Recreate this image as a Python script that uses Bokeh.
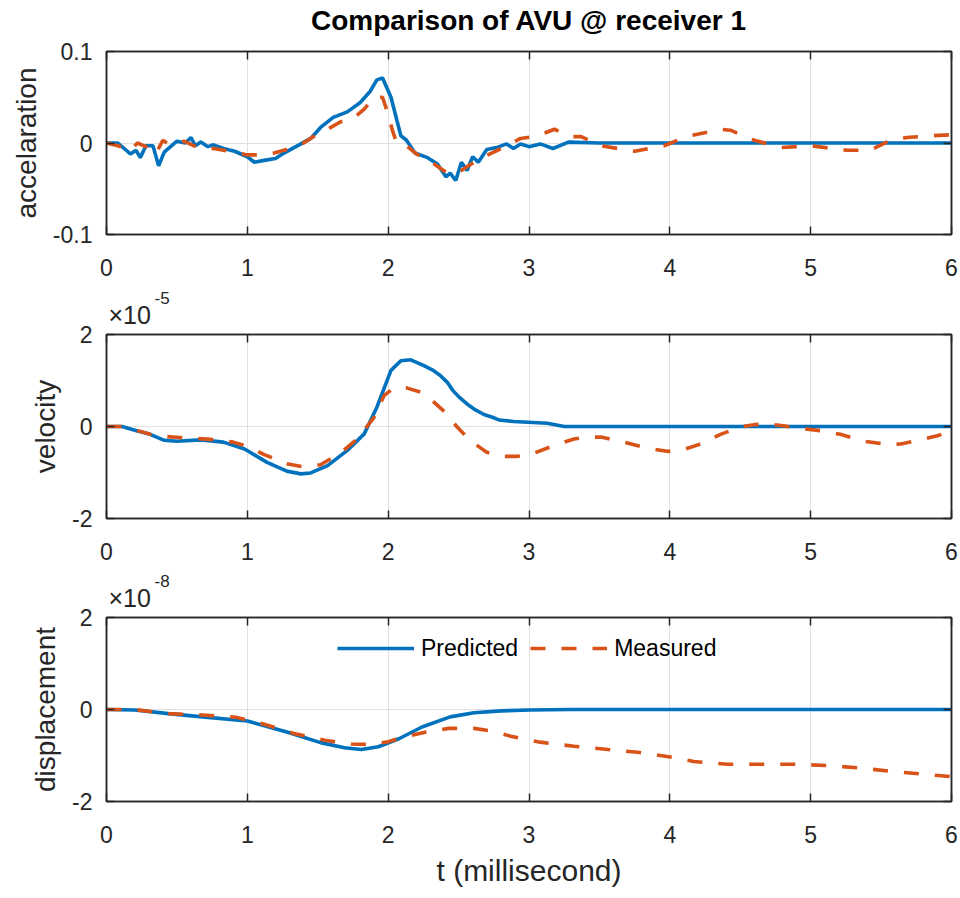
from bokeh.plotting import figure
from bokeh.layouts import column
from bokeh.models import (LinearAxis, FixedTicker, Legend, LegendItem,
                          Range1d, Title, CustomLabelingPolicy)
from bokeh.embed import file_html
from bokeh.resources import INLINE

# ---------------- data ----------------
t_acc_pred = [0, 0.08, 0.17, 0.21, 0.24, 0.28, 0.33, 0.37, 0.41, 0.50,
              0.56, 0.60, 0.63, 0.67, 0.72, 0.76, 0.83, 0.91, 1.00, 1.05,
              1.12, 1.20, 1.26, 1.38, 1.45, 1.52, 1.61, 1.71, 1.80, 1.87,
              1.92, 1.96, 2.02, 2.05, 2.09, 2.13, 2.19, 2.28, 2.35, 2.41,
              2.44, 2.48, 2.52, 2.56, 2.60, 2.64, 2.70, 2.77, 2.84, 2.89,
              2.94, 3.00, 3.08, 3.17, 3.28, 3.5, 4.0, 5.0, 6.0]
acc_pred = [0, 0, -0.012, -0.008, -0.016, -0.003, -0.003, -0.025, -0.010, 0.002,
            0, 0.006, -0.003, 0.001, -0.004, -0.002, -0.006, -0.009, -0.015, -0.021,
            -0.019, -0.017, -0.011, -0.001, 0.005, 0.017, 0.028, 0.034, 0.044, 0.056,
            0.069, 0.071, 0.050, 0.032, 0.008, 0.003, -0.011, -0.016, -0.023, -0.037,
            -0.033, -0.041, -0.021, -0.030, -0.015, -0.021, -0.007, -0.005, -0.001, -0.006,
            -0.001, -0.004, -0.001, -0.006, 0.001, 0, 0, 0, 0]

t_acc_meas = [0, 0.08, 0.17, 0.22, 0.28, 0.35, 0.40, 0.45, 0.55, 0.65,
              0.76, 0.91, 1.00, 1.09, 1.19, 1.28, 1.40, 1.47, 1.57, 1.66,
              1.76, 1.83, 1.90, 1.96, 1.99, 2.03, 2.06, 2.13, 2.20, 2.30,
              2.42, 2.49, 2.56, 2.65, 2.75, 2.84, 2.94, 3.04, 3.13, 3.18,
              3.30, 3.37, 3.51, 3.75, 3.96, 4.12, 4.36, 4.43, 4.60, 4.79,
              5.00, 5.26, 5.42, 5.54, 5.68, 5.87, 6.00]
acc_meas = [0, -0.003, -0.008, 0.000, -0.004, -0.012, 0.003, -0.002, 0.002, -0.005,
            -0.006, -0.010, -0.013, -0.013, -0.011, -0.007, 0.000, 0.007, 0.015, 0.023,
            0.028, 0.037, 0.050, 0.050, 0.036, 0.014, 0.000, -0.003, -0.012, -0.020,
            -0.033, -0.033, -0.026, -0.017, -0.010, -0.003, 0.005, 0.007, 0.012, 0.015,
            0.007, 0.007, -0.003, -0.009, -0.003, 0.007, 0.015, 0.014, 0.003, -0.005,
            -0.003, -0.008, -0.008, 0.001, 0.006, 0.008, 0.009]

# velocity in units of 1e-5
t_vel_pred = [0, 0.11, 0.22, 0.31, 0.41, 0.50, 0.67, 0.83, 0.98, 1.14,
              1.28, 1.38, 1.45, 1.57, 1.71, 1.83, 1.92, 2.02, 2.09, 2.16,
              2.25, 2.32, 2.37, 2.42, 2.46, 2.51, 2.56, 2.62, 2.68, 2.74,
              2.79, 2.89, 3.13, 3.25, 4.0, 5.0, 6.0]
vel_pred = [0, 0, -0.10, -0.17, -0.30, -0.32, -0.29, -0.34, -0.49, -0.78,
            -0.97, -1.03, -1.01, -0.85, -0.52, -0.16, 0.42, 1.22, 1.43, 1.45,
            1.33, 1.22, 1.11, 0.96, 0.78, 0.62, 0.49, 0.36, 0.26, 0.20,
            0.14, 0.11, 0.07, 0, 0, 0, 0]

t_vel_meas = [0, 0.10, 0.22, 0.31, 0.43, 0.57, 0.74, 0.90, 1.00, 1.12,
              1.28, 1.40, 1.52, 1.66, 1.78, 1.90, 1.97, 2.04, 2.13, 2.23,
              2.30, 2.39, 2.49, 2.58, 2.70, 2.82, 2.91, 3.01, 3.18, 3.32,
              3.41, 3.51, 3.65, 3.84, 3.98, 4.08, 4.20, 4.36, 4.50, 4.60,
              4.69, 4.79, 4.93, 5.07, 5.21, 5.38, 5.54, 5.64, 5.78, 5.90,
              6.00]
vel_meas = [0, 0, -0.09, -0.17, -0.22, -0.25, -0.28, -0.34, -0.43, -0.61,
            -0.81, -0.88, -0.83, -0.58, -0.27, 0.20, 0.67, 0.84, 0.84, 0.75,
            0.60, 0.35, -0.01, -0.30, -0.56, -0.65, -0.65, -0.61, -0.41, -0.27,
            -0.23, -0.23, -0.32, -0.47, -0.54, -0.52, -0.40, -0.17, -0.01, 0.04,
            0.06, 0.02, -0.04, -0.09, -0.17, -0.32, -0.39, -0.38, -0.29, -0.20,
            -0.10]

# displacement in units of 1e-8
t_disp_pred = [0, 0.2, 0.44, 0.68, 1.0, 1.28, 1.52, 1.69, 1.81, 1.93,
               2.08, 2.24, 2.44, 2.61, 2.80, 3.0, 3.3, 4.0, 5.0, 6.0]
disp_pred = [0, -0.01, -0.09, -0.16, -0.25, -0.49, -0.72, -0.83, -0.87, -0.81,
             -0.63, -0.38, -0.16, -0.07, -0.03, -0.01, 0, 0, 0, 0]

t_disp_meas = [0, 0.2, 0.44, 0.68, 0.92, 1.12, 1.33, 1.55, 1.74, 1.88,
               2.00, 2.12, 2.27, 2.43, 2.61, 2.72, 2.87, 3.00, 3.08, 3.32,
               3.56, 3.77, 3.98, 4.17, 4.41, 4.65, 4.91, 5.12, 5.35, 5.59,
               5.78, 6.00]
disp_meas = [0, 0, -0.09, -0.12, -0.17, -0.32, -0.52, -0.67, -0.75, -0.76,
             -0.70, -0.59, -0.49, -0.41, -0.41, -0.46, -0.58, -0.67, -0.71, -0.80,
             -0.87, -0.93, -1.02, -1.13, -1.19, -1.19, -1.19, -1.22, -1.27, -1.35,
             -1.40, -1.46]

x_ticks = [0, 1, 2, 3, 4, 5, 6]
acc_ticks = [-0.1, 0, 0.1]
acc_tick_labels = ["-0.1", "0", "0.1"]
ve_ticks = [-2, 0, 2]
ve_tick_labels = ["-2", "0", "2"]

title_text = "Comparison of AVU @ receiver 1"
series_names = ["Predicted", "Measured"]
y_titles = ["accelaration", "velocity", "displacement"]
x_title = "t (millisecond)"
exp_base = "\u00d710"
vel_exp = "-5"
disp_exp = "-8"

# ---------------- style ----------------
FONT = "Liberation Sans"
BLUE = "#0072BD"
ORANGE = "#D95319"
AX = "#262626"
GRID = "#e0e0e0"
LW = 3.6
DASH = "15 16"

NO_LABELS = "for (const i of indices) indices.unset(i); return indices"


def style_axis(ax, ticks, labels=None, show_labels=True):
    ax.ticker = FixedTicker(ticks=ticks)
    if labels is not None:
        ax.major_label_overrides = {tk: lb for tk, lb in zip(ticks, labels)}
    ax.major_tick_in = 8
    ax.major_tick_out = 0
    ax.minor_tick_line_color = None
    ax.major_tick_line_color = AX
    ax.major_tick_line_width = 1.5
    ax.axis_line_color = AX
    ax.axis_line_width = 1.5
    ax.major_label_text_font = FONT
    ax.major_label_text_color = AX
    if show_labels:
        ax.major_label_text_font_size = "23px"
    else:
        ax.major_label_text_font_size = "1px"
        ax.major_label_standoff = 0
        ax.major_label_policy = CustomLabelingPolicy(code=NO_LABELS)


def make_fig(yr, yticks, ylabels, ytitle, top, bottom, fh):
    p = figure(frame_width=845, frame_height=fh,
               x_range=Range1d(0, 6), y_range=Range1d(*yr),
               output_backend="svg", toolbar_location=None,
               min_border_left=106, min_border_right=9,
               min_border_top=top, min_border_bottom=bottom,
               background_fill_color="white", border_fill_color="white")
    p.title = None
    p.outline_line_color = AX
    p.outline_line_width = 1.5
    xb = p.below[0]
    style_axis(xb, x_ticks)
    xb.major_label_standoff = 24
    yl = p.left[0]
    style_axis(yl, yticks, ylabels)
    yl.major_label_standoff = 14
    yl.axis_label = ytitle
    yl.axis_label_text_font = FONT
    yl.axis_label_text_font_size = "28px"
    yl.axis_label_text_font_style = "normal"
    yl.axis_label_text_color = AX
    yl.axis_label_standoff = 8
    top_ax = LinearAxis()
    style_axis(top_ax, x_ticks, show_labels=False)
    p.add_layout(top_ax, "above")
    right_ax = LinearAxis()
    style_axis(right_ax, yticks, show_labels=False)
    p.add_layout(right_ax, "right")
    p.xgrid.grid_line_color = GRID
    p.ygrid.grid_line_color = GRID
    return p, top_ax


def add_exponent(p, sup):
    p.add_layout(Title(text=exp_base, align="left", offset=2, standoff=3,
                       text_font=FONT, text_font_size="25px",
                       text_font_style="normal", text_color=AX), "above")
    p.add_layout(Title(text=sup, align="left", offset=48, standoff=-13,
                       text_font=FONT, text_font_size="17px",
                       text_font_style="normal", text_color=AX), "above")


# ---- acceleration ----
p1, top1 = make_fig((-0.1, 0.1), acc_ticks, acc_tick_labels, y_titles[0], 51, 56, 183)
top1.axis_label = title_text
top1.axis_label_text_font = FONT
top1.axis_label_text_font_size = "28px"
top1.axis_label_text_font_style = "bold"
top1.axis_label_text_color = "black"
top1.axis_label_standoff = 12
p1.line(t_acc_pred, acc_pred, line_color=BLUE, line_width=LW)
p1.line(t_acc_meas, acc_meas, line_color=ORANGE, line_width=LW, line_dash=DASH)

# ---- velocity ----
p2, _ = make_fig((-2, 2), ve_ticks, ve_tick_labels, y_titles[1], 44, 52, 184)
add_exponent(p2, vel_exp)
p2.line(t_vel_pred, vel_pred, line_color=BLUE, line_width=LW)
p2.line(t_vel_meas, vel_meas, line_color=ORANGE, line_width=LW, line_dash=DASH)

# ---- displacement ----
p3, _ = make_fig((-2, 2), ve_ticks, ve_tick_labels, y_titles[2], 47, 97, 184)
add_exponent(p3, disp_exp)
r1 = p3.line(t_disp_pred, disp_pred, line_color=BLUE, line_width=LW)
r2 = p3.line(t_disp_meas, disp_meas, line_color=ORANGE, line_width=LW, line_dash=DASH)
xb3 = p3.below[0]
xb3.axis_label = x_title
xb3.axis_label_text_font = FONT
xb3.axis_label_text_font_size = "30px"
xb3.axis_label_text_font_style = "normal"
xb3.axis_label_text_color = AX
xb3.axis_label_standoff = 8

legend = Legend(items=[LegendItem(label=series_names[0], renderers=[r1]),
                       LegendItem(label=series_names[1], renderers=[r2])],
                location=(231, 138), orientation="horizontal",
                glyph_width=77, glyph_height=30, label_height=30,
                label_standoff=7, spacing=12, padding=0, margin=0,
                border_line_alpha=0, background_fill_alpha=0,
                label_text_font=FONT, label_text_font_size="23px",
                label_text_color="black")
p3.add_layout(legend)

layout = column(p1, p2, p3, spacing=0)
open("out.html", "w").write(file_html(layout, INLINE))
